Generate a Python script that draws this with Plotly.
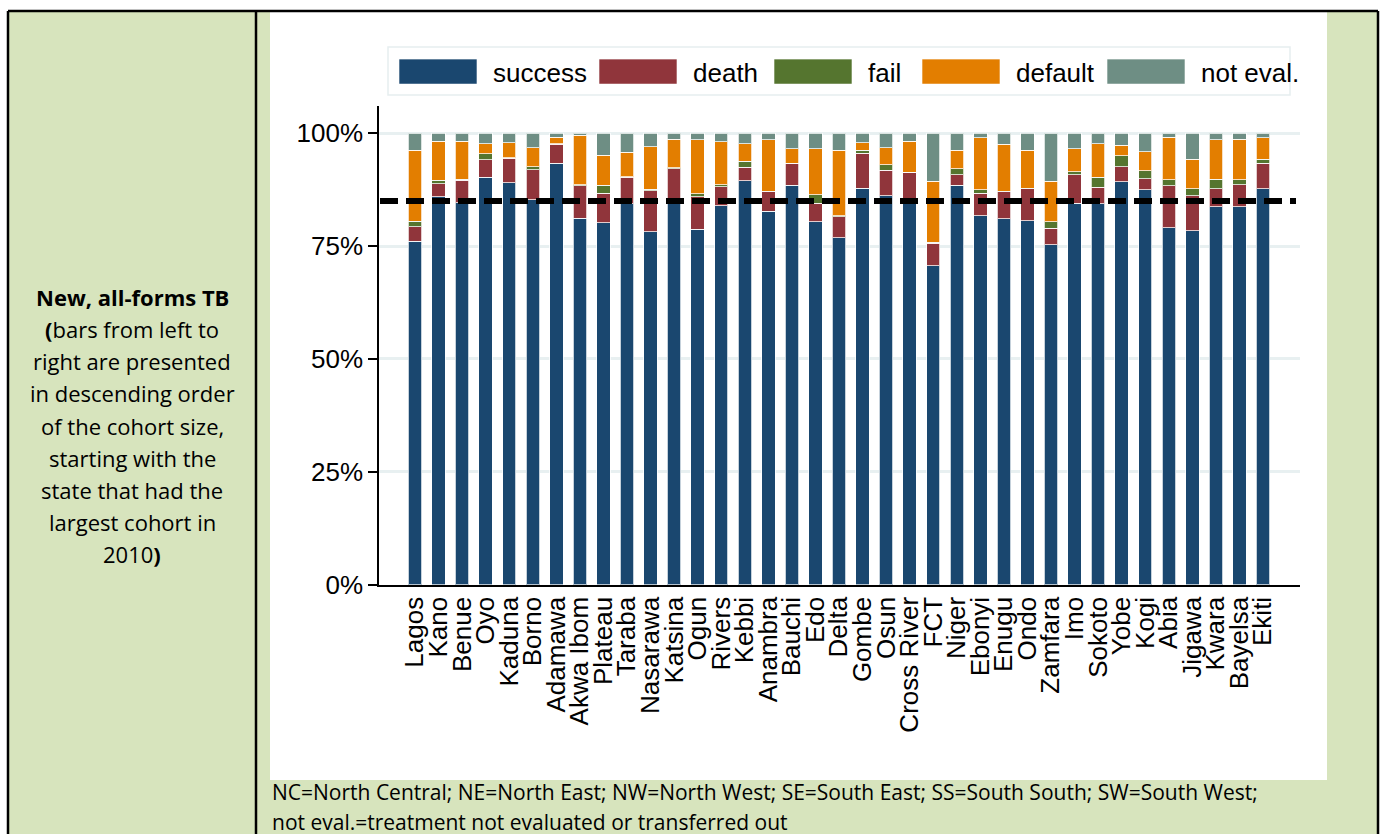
import plotly.graph_objects as go

W = 1386
H_VIEW = 834          # height of the photographed page
H = 850               # figure height (page is shown squeezed to H_VIEW)

states = ["Lagos", "Kano", "Benue", "Oyo", "Kaduna", "Borno", "Adamawa", "Akwa Ibom",
          "Plateau", "Taraba", "Nasarawa", "Katsina", "Ogun", "Rivers", "Kebbi", "Anambra",
          "Bauchi", "Edo", "Delta", "Gombe", "Osun", "Cross River", "FCT", "Niger", "Ebonyi",
          "Enugu", "Ondo", "Zamfara", "Imo", "Sokoto", "Yobe", "Kogi", "Abia", "Jigawa",
          "Kwara", "Bayelsa", "Ekiti"]

success = [76.1, 85.9, 84.6, 90.3, 89.0, 85.3, 93.3, 81.2, 80.2, 84.4, 78.2, 85.6, 78.7,
           83.9, 89.5, 82.7, 88.5, 80.4, 76.8, 87.8, 86.2, 85.3, 70.6, 88.5, 81.7, 81.0,
           80.6, 75.3, 84.5, 84.4, 89.3, 87.5, 79.1, 78.4, 83.7, 83.7, 87.7]
death = [3.2, 2.9, 5.0, 3.8, 5.4, 6.6, 4.3, 7.2, 6.5, 5.8, 9.1, 6.5, 7.2, 4.2, 3.0, 4.3,
         4.8, 4.1, 4.7, 7.8, 5.6, 6.0, 5.0, 2.3, 5.0, 6.0, 7.1, 3.7, 6.3, 3.6, 3.3, 2.4,
         9.3, 7.8, 4.0, 4.9, 5.6]
fail = [1.2, 0.8, 0.2, 1.3, 0.2, 0.7, 0.1, 0.2, 1.8, 0.2, 0.3, 0.2, 0.7, 0.5, 1.3, 0.2,
        0.1, 1.9, 0.2, 0.6, 1.2, 0.1, 0.2, 1.3, 0.8, 0.1, 0.1, 1.4, 0.7, 2.2, 2.4, 1.8,
        1.3, 1.5, 2.1, 1.1, 0.9]
default = [15.7, 8.6, 8.4, 2.3, 3.3, 4.2, 1.4, 10.9, 6.6, 5.4, 9.4, 6.4, 11.9, 9.5, 3.9,
           11.3, 3.2, 10.2, 14.5, 1.7, 3.8, 6.8, 13.6, 4.1, 11.5, 10.5, 8.4, 9.0, 5.1, 7.5,
           2.3, 4.2, 9.4, 6.5, 8.8, 9.0, 4.8]
not_eval = [3.8, 1.8, 1.8, 2.3, 2.1, 3.2, 0.9, 0.5, 4.9, 4.2, 3.0, 1.3, 1.5, 1.9, 2.3, 1.5,
            3.4, 3.4, 3.8, 2.1, 3.2, 1.8, 10.6, 3.8, 1.0, 2.4, 3.8, 10.6, 3.4, 2.3, 2.7,
            4.1, 0.9, 5.8, 1.4, 1.3, 1.0]

series_names = ["success", "death", "fail", "default", "not eval."]
series_values = [success, death, fail, default, not_eval]
series_colors = ["#1a476f", "#90353b", "#55752f", "#e37e00", "#6e8e84"]

target = 85
y_ticks = [0, 25, 50, 75, 100]

side_lines = ["<b>New, all-forms TB</b>", "<b>(</b>bars from left to", "right are presented",
              "in descending order", "of the cohort size,", "starting with the",
              "state that had the", "largest cohort in", "2010<b>)</b>"]
foot_lines = ["NC=North Central; NE=North East; NW=North West; SE=South East; SS=South South; SW=South West;",
              "not eval.=treatment not evaluated or transferred out"]


def px(x):
    return x / W


def py(y):
    # y measured in photographed-page pixels
    return 1 - y / H_VIEW


GREEN = "#d7e4bd"
ARIAL = "Liberation Sans, Arial, sans-serif"
CAL = "Open Sans, Lato, sans-serif"

fig = go.Figure()
for name, vals, col in zip(series_names, series_values, series_colors):
    fig.add_trace(go.Bar(x=states, y=vals, name=name, marker_color=col,
                         marker_line=dict(color="rgba(255,255,255,0.75)", width=1),
                         width=0.57, showlegend=False))

shapes = []
# table background
shapes.append(dict(type="rect", xref="paper", yref="paper", x0=px(8), x1=px(1378),
                   y0=py(H_VIEW + 20), y1=py(11), fillcolor=GREEN, line_width=0, layer="below"))
shapes.append(dict(type="rect", xref="paper", yref="paper", x0=px(270), x1=px(1327),
                   y0=py(779), y1=py(12), fillcolor="white", line_width=0, layer="below"))
# borders
for (x0, y0, x1, y1) in [(8, 11, 1378, 11), (8, 11, 8, H_VIEW + 20), (1378, 11, 1378, H_VIEW + 20),
                         (256, 11, 256, H_VIEW + 20)]:
    shapes.append(dict(type="line", xref="paper", yref="paper", x0=px(x0), x1=px(x1),
                       y0=py(y0), y1=py(y1), line=dict(color="black", width=2.5)))
# target line
shapes.append(dict(type="line", xref="paper", yref="y", x0=px(380), x1=px(1296),
                   y0=target, y1=target, line=dict(color="black", width=6, dash="18px,8px"),
                   layer="above"))
# legend box
shapes.append(dict(type="rect", xref="paper", yref="paper", x0=px(388), x1=px(1290),
                   y0=py(95), y1=py(47), line=dict(color="#e6eef0", width=1.5),
                   fillcolor="white", layer="below"))
sw_x = [399, 599, 774, 922, 1107]
tx_x = [491, 691, 866, 1014, 1199]
annotations = []
for name, col, sx, tx in zip(series_names, series_colors, sw_x, tx_x):
    shapes.append(dict(type="rect", xref="paper", yref="paper", x0=px(sx), x1=px(sx + 78),
                       y0=py(84), y1=py(59), fillcolor=col,
                       line=dict(color="rgba(255,255,255,0.6)", width=1)))
    annotations.append(dict(x=px(tx), y=py(73), xref="paper", yref="paper", text=name,
                            showarrow=False, xanchor="left", yanchor="middle",
                            font=dict(family=ARIAL, size=26, color="black")))

for i, t in enumerate(side_lines):
    annotations.append(dict(x=px(132), y=py(297 + 32 * i), xref="paper", yref="paper", text=t,
                            showarrow=False, xanchor="center", yanchor="middle",
                            font=dict(family=CAL, size=22, color="black")))
for i, t in enumerate(foot_lines):
    annotations.append(dict(x=px(270), y=py(791 + 30 * i), xref="paper", yref="paper", text=t,
                            showarrow=False, xanchor="left", yanchor="middle",
                            font=dict(family=CAL, size=21, color="black")))

fig.update_layout(
    width=W, height=H, margin=dict(l=0, r=0, t=0, b=0),
    paper_bgcolor="white", plot_bgcolor="rgba(0,0,0,0)",
    barmode="stack", bargap=0.43,
    shapes=shapes, annotations=annotations,
    xaxis=dict(domain=[px(379), px(1300)], range=[-1.53, 37.57], showgrid=False,
               showline=True, linecolor="black", linewidth=1.5, ticks="",
               tickmode="array", tickvals=states, ticktext=states,
               tickangle=-90, tickfont=dict(family=ARIAL, size=26, color="black"),
               zeroline=False, fixedrange=True),
    yaxis=dict(domain=[py(584), py(106)], range=[0, 106], tickvals=y_ticks,
               ticktext=[f"{v}%" for v in y_ticks], showgrid=True, gridcolor="#e8f0f1",
               gridwidth=3, showline=True, linecolor="black", linewidth=1.5,
               ticks="outside", ticklen=9, tickwidth=1.5, tickcolor="black",
               tickfont=dict(family=ARIAL, size=26, color="black"), zeroline=False),
)

fig.write_html("out.html")
